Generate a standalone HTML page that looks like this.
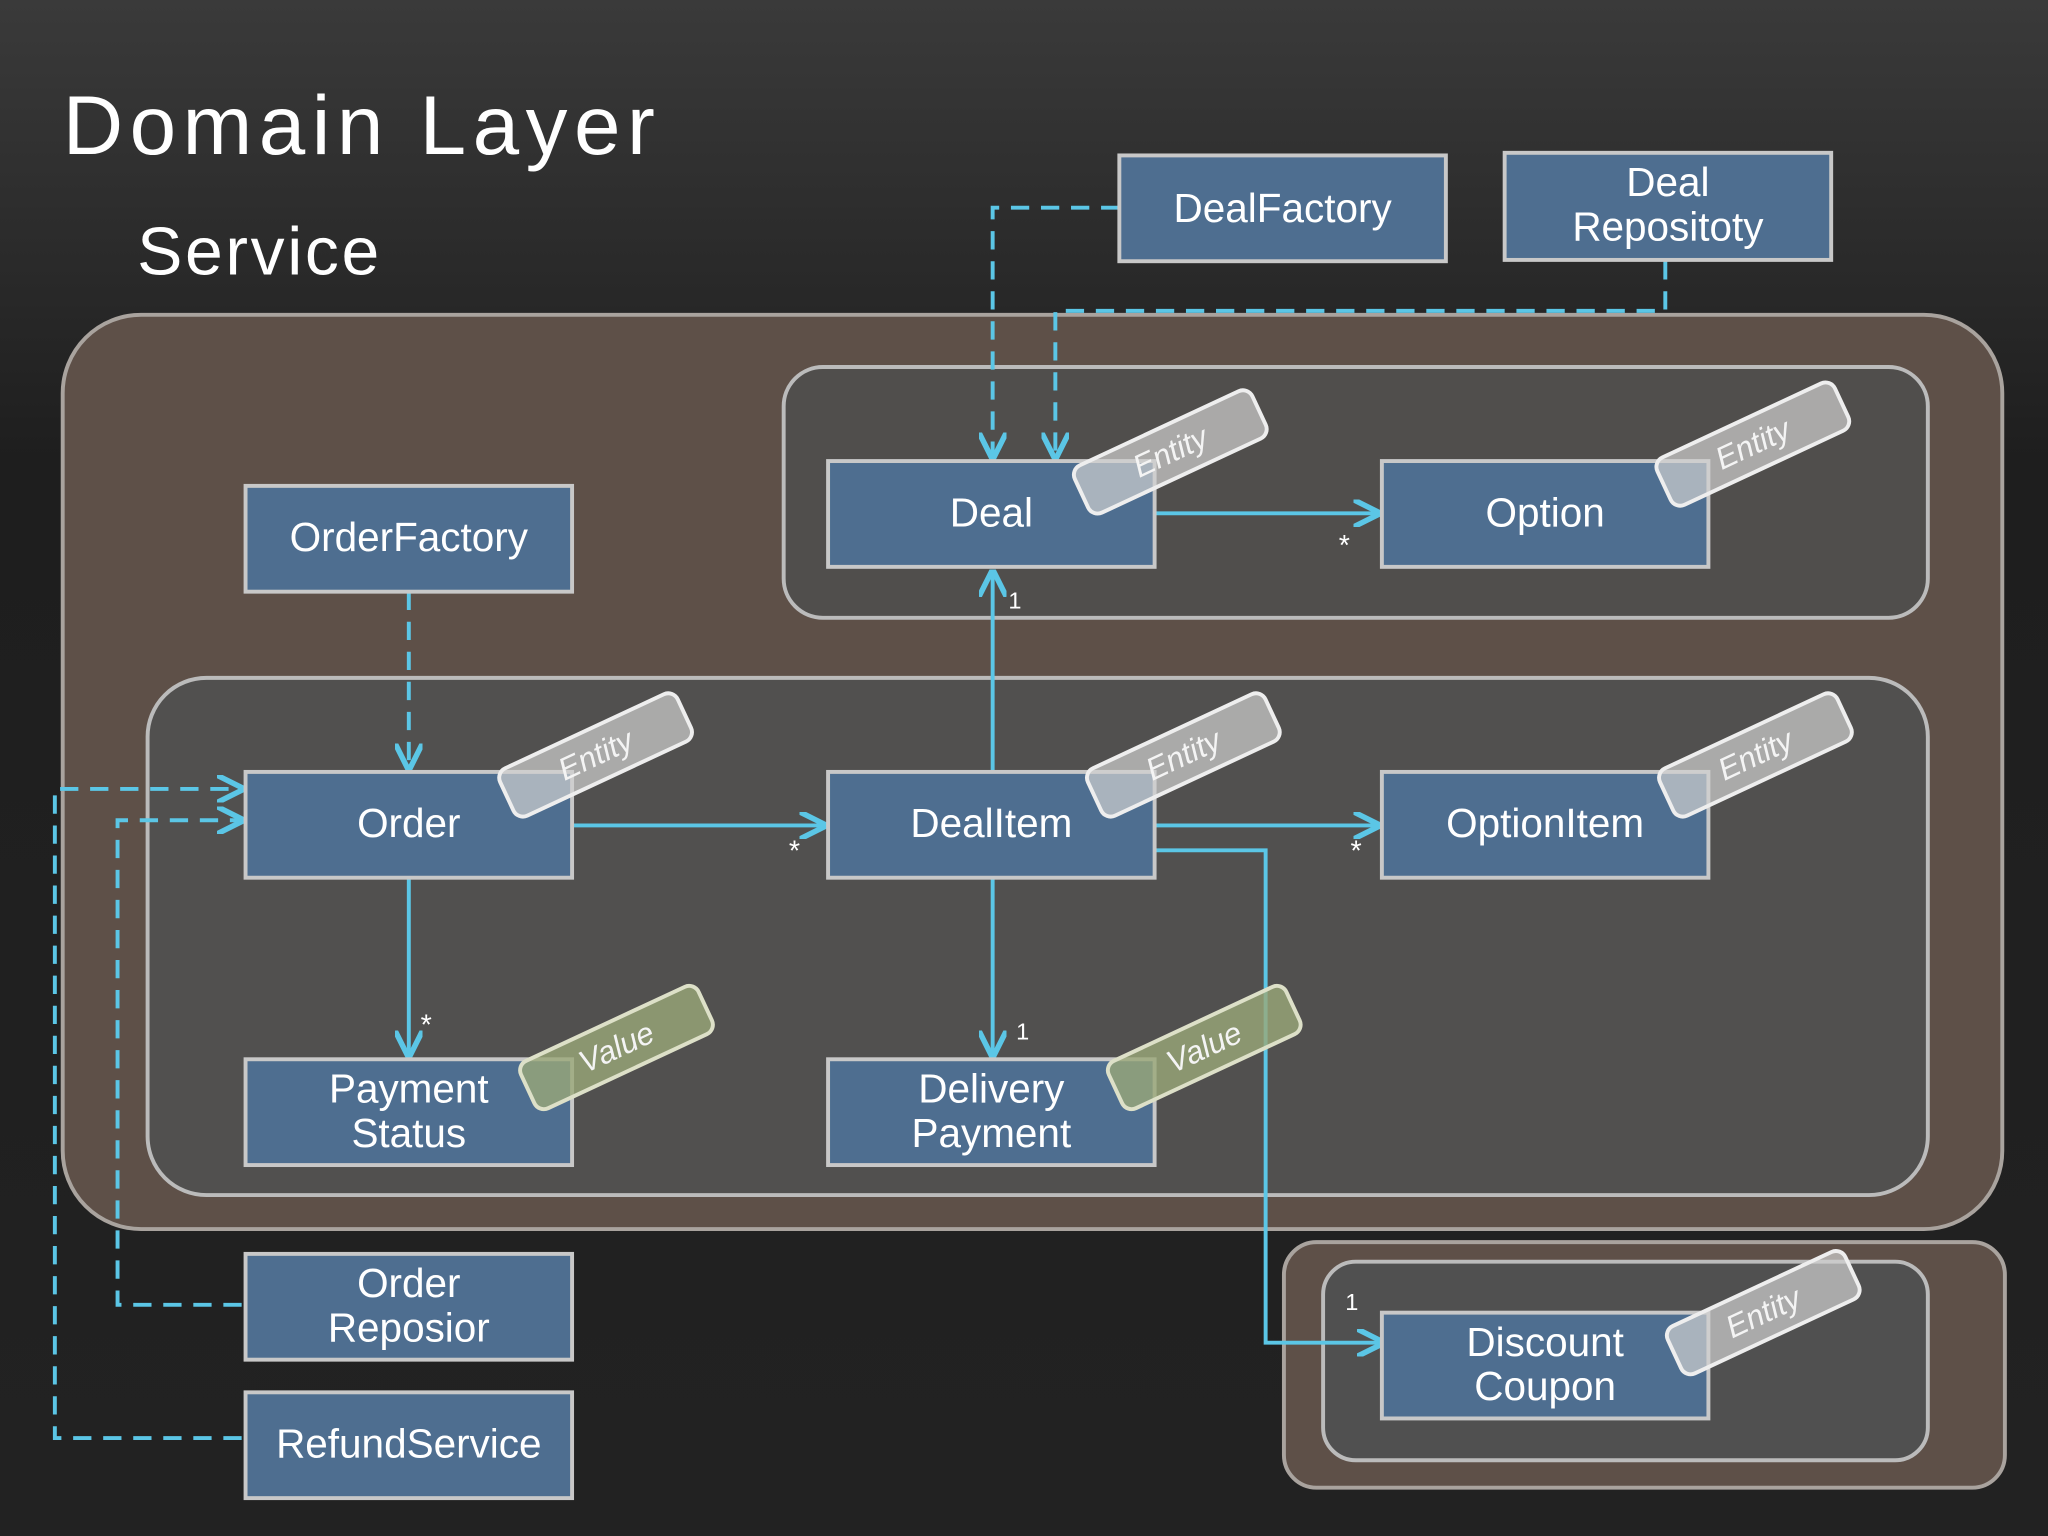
<!DOCTYPE html>
<html><head><style>
html,body{margin:0;padding:0;width:2048px;height:1536px;overflow:hidden;background:#1c1c1c}
svg{display:block}
text{font-family:"Liberation Sans",sans-serif;fill:#fff}
</style></head><body>
<svg width="2048" height="1536" viewBox="0 0 1568 1176" xmlns="http://www.w3.org/2000/svg">
<defs>
<linearGradient id="bg" x1="0" y1="0" x2="0" y2="1"><stop offset="0" stop-color="#3a3a3a"/><stop offset="0.3" stop-color="#1e1e1e"/><stop offset="1" stop-color="#222"/></linearGradient>
<marker id="ar" viewBox="0 0 10 10" refX="9" refY="5" markerWidth="7" markerHeight="7" orient="auto"><path d="M0,0 L10,5 L0,10" fill="none" stroke="#5bc6e6" stroke-width="2"/></marker>
</defs>
<rect width="1568" height="1176" fill="url(#bg)"/>
<text x="48" y="118" font-size="64" letter-spacing="5">Domain Layer</text>
<text x="105" y="210" font-size="52" letter-spacing="2">Service</text>

<rect x="48" y="241" width="1485" height="700" rx="60" fill="#5e5048" stroke="#a9a39e" stroke-width="3"/>
<rect x="600" y="281" width="876" height="192" rx="30" fill="#4e4e4e" fill-opacity="0.85" stroke="#bbb" stroke-width="3"/>
<rect x="113" y="519" width="1363" height="396" rx="45" fill="#505050" fill-opacity="0.9" stroke="#bbb" stroke-width="3"/>
<rect x="983" y="951" width="552" height="188" rx="25" fill="#5e5048" stroke="#a9a39e" stroke-width="3"/>
<rect x="1013" y="966" width="463" height="152" rx="25" fill="#505050" stroke="#bbb" stroke-width="3"/>

<g fill="none" stroke="#5bc6e6" stroke-width="3" stroke-dasharray="14,9">
<path d="M857,159 H760 V350" marker-end="url(#ar)"/>
<path d="M1275,200 V238 H808 V350" marker-end="url(#ar)"/>
<path d="M313,453 V588" marker-end="url(#ar)"/>
<path d="M185,999 H90 V628 H185" marker-end="url(#ar)"/>
<path d="M185,1101 H42 V604 H185" marker-end="url(#ar)"/>
</g>
<g fill="none" stroke="#5bc6e6" stroke-width="3">
<path d="M884,393 H1055" marker-end="url(#ar)"/>
<path d="M760,591 V438" marker-end="url(#ar)"/>
<path d="M438,632 H631" marker-end="url(#ar)"/>
<path d="M884,632 H1055" marker-end="url(#ar)"/>
<path d="M884,651 H969 V1028 H1058" marker-end="url(#ar)"/>
<path d="M313,672 V808" marker-end="url(#ar)"/>
<path d="M760,672 V808" marker-end="url(#ar)"/>
</g>
<g font-size="22">
<text x="1025" y="425">*</text><text x="772" y="466" font-size="18">1</text>
<text x="604" y="659">*</text><text x="1034" y="659">*</text>
<text x="322" y="792">*</text><text x="778" y="796" font-size="18">1</text>
<text x="1030" y="1003" font-size="18">1</text>
</g>

<g fill="#4e6e90" stroke="#c8c8c8" stroke-width="3">
<rect x="857" y="119" width="250" height="81"/>
<rect x="1152" y="117" width="250" height="82"/>
<rect x="188" y="372" width="250" height="81"/>
<rect x="634" y="353" width="250" height="81"/>
<rect x="1058" y="353" width="250" height="81"/>
<rect x="188" y="591" width="250" height="81"/>
<rect x="634" y="591" width="250" height="81"/>
<rect x="1058" y="591" width="250" height="81"/>
<rect x="188" y="811" width="250" height="81"/>
<rect x="634" y="811" width="250" height="81"/>
<rect x="188" y="960" width="250" height="81"/>
<rect x="188" y="1066" width="250" height="81"/>
<rect x="1058" y="1005" width="250" height="81"/>
</g>
<g font-size="31" text-anchor="middle">
<text x="982" y="170">DealFactory</text>
<text x="1277" y="150">Deal</text><text x="1277" y="184">Repositoty</text>
<text x="313" y="422">OrderFactory</text>
<text x="759" y="403">Deal</text>
<text x="1183" y="403">Option</text>
<text x="313" y="641">Order</text>
<text x="759" y="641">DealItem</text>
<text x="1183" y="641">OptionItem</text>
<text x="313" y="844">Payment</text><text x="313" y="878">Status</text>
<text x="759" y="844">Delivery</text><text x="759" y="878">Payment</text>
<text x="313" y="993">Order</text><text x="313" y="1027">Reposior</text>
<text x="313" y="1116">RefundService</text>
<text x="1183" y="1038">Discount</text><text x="1183" y="1072">Coupon</text>
</g>

<g font-family="Liberation Serif" font-style="italic" font-size="24">
<g transform="translate(896,346) rotate(-25)"><rect x="-75" y="-20" width="150" height="40" rx="8" fill="#d0d0d0" fill-opacity="0.7" stroke="#eee" stroke-width="3"/><text text-anchor="middle" y="8" style="fill:#f4f4f4">Entity</text></g>
<g transform="translate(1342,340) rotate(-25)"><rect x="-75" y="-20" width="150" height="40" rx="8" fill="#d0d0d0" fill-opacity="0.7" stroke="#eee" stroke-width="3"/><text text-anchor="middle" y="8" style="fill:#f4f4f4">Entity</text></g>
<g transform="translate(456,578) rotate(-25)"><rect x="-75" y="-20" width="150" height="40" rx="8" fill="#d0d0d0" fill-opacity="0.7" stroke="#eee" stroke-width="3"/><text text-anchor="middle" y="8" style="fill:#f4f4f4">Entity</text></g>
<g transform="translate(906,578) rotate(-25)"><rect x="-75" y="-20" width="150" height="40" rx="8" fill="#d0d0d0" fill-opacity="0.7" stroke="#eee" stroke-width="3"/><text text-anchor="middle" y="8" style="fill:#f4f4f4">Entity</text></g>
<g transform="translate(1344,578) rotate(-25)"><rect x="-75" y="-20" width="150" height="40" rx="8" fill="#d0d0d0" fill-opacity="0.7" stroke="#eee" stroke-width="3"/><text text-anchor="middle" y="8" style="fill:#f4f4f4">Entity</text></g>
<g transform="translate(1350,1005) rotate(-25)"><rect x="-75" y="-20" width="150" height="40" rx="8" fill="#d0d0d0" fill-opacity="0.7" stroke="#eee" stroke-width="3"/><text text-anchor="middle" y="8" style="fill:#f4f4f4">Entity</text></g>
<g transform="translate(472,802) rotate(-25)"><rect x="-75" y="-20" width="150" height="40" rx="8" fill="#9aa878" fill-opacity="0.8" stroke="#dde0c8" stroke-width="3"/><text text-anchor="middle" y="8" style="fill:#f4f4f4">Value</text></g>
<g transform="translate(922,802) rotate(-25)"><rect x="-75" y="-20" width="150" height="40" rx="8" fill="#9aa878" fill-opacity="0.8" stroke="#dde0c8" stroke-width="3"/><text text-anchor="middle" y="8" style="fill:#f4f4f4">Value</text></g>
</g>
</svg>
</body></html>
